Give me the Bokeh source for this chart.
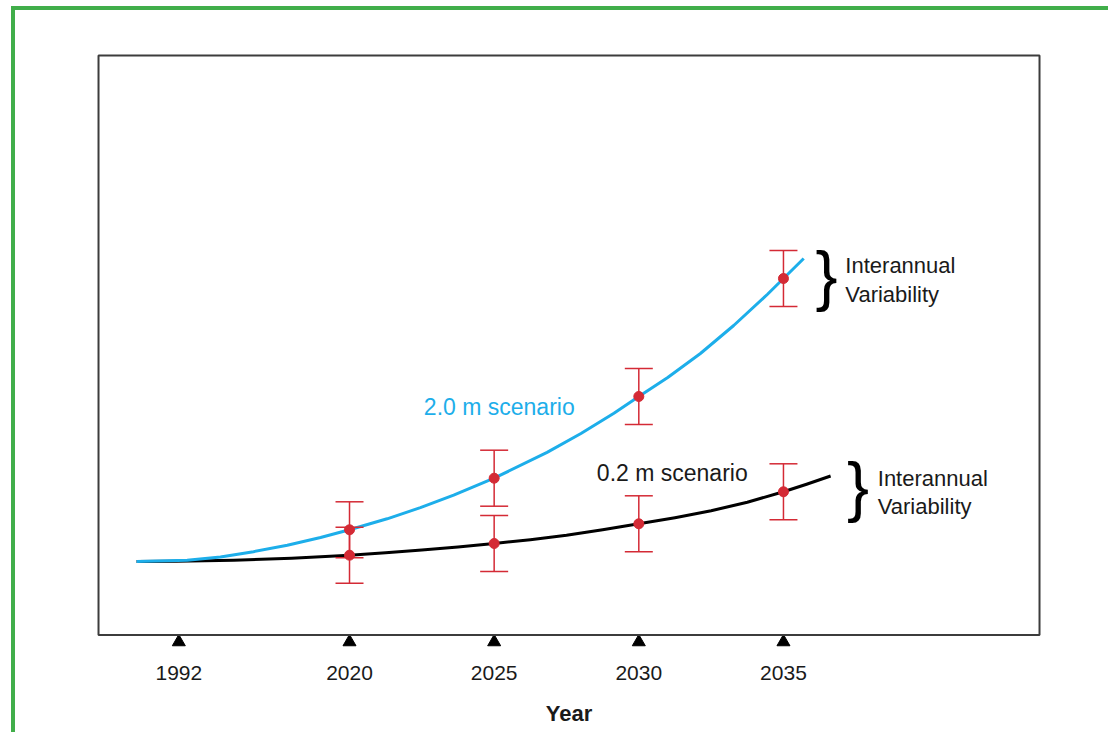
from bokeh.plotting import figure
from bokeh.models import FixedTicker, BoxAnnotation
from bokeh.layouts import column
from bokeh.embed import file_html
from bokeh.resources import INLINE
from bokeh.core.properties import value

# ---------------- data ----------------
tick_labels = ["1992", "2020", "2025", "2030", "2035"]
# axis position of each tick (2020-2035 linear; 1992 sits at an axis break)
tick_pos = [2014.1, 2020, 2025, 2030, 2035]

obs_years = [2020, 2025, 2030, 2035]
high_vals = [3.17, 8.33, 16.5, 28.3]     # 2.0 m scenario (relative units)
low_vals = [0.63, 1.8, 3.77, 6.97]       # 0.2 m scenario
variability = [2.8, 2.8, 2.8, 2.8]       # interannual variability (+/-)

high_curve_x = [2012.64, 2014.39, 2015.54, 2016.68, 2017.85, 2019.0, 2020.0,
                2021.3, 2022.45, 2023.6, 2025.0, 2026.83, 2028.0, 2029.14,
                2030.0, 2031.0, 2032.13, 2033.28, 2034.44, 2035.0, 2035.7]
high_curve_y = [0.0, 0.13, 0.45, 0.98, 1.62, 2.4, 3.17,
                4.27, 5.38, 6.63, 8.33, 10.91, 12.8, 14.83,
                16.5, 18.4, 20.8, 23.6, 26.7, 28.3, 30.3]

low_curve_x = [2012.64, 2014.0, 2016.0, 2018.0, 2020.0, 2021.25, 2022.5,
               2023.75, 2025.0, 2026.25, 2027.5, 2028.75, 2030.0, 2031.25,
               2032.5, 2033.75, 2035.0, 2035.8, 2036.63]
low_curve_y = [0.0, 0.02, 0.13, 0.33, 0.63, 0.88, 1.15,
               1.46, 1.8, 2.18, 2.62, 3.17, 3.77, 4.38,
               5.07, 5.93, 6.97, 7.72, 8.55]

# ---------------- styling ----------------
BLUE = "#1daeea"
RED = "#d42a35"
GREEN = "#41ae4a"
TXT = "#1a1a1a"
FONT = "Liberation Sans"

p = figure(width=1093, height=722,
           x_range=(2011.047, 2044.127), y_range=(-8.9, 51.4),
           output_backend="svg", toolbar_location=None,
           y_axis_location=None,
           min_border_left=75, min_border_right=61,
           min_border_top=37, min_border_bottom=82)
p.outline_line_color = None
p.xgrid.visible = False
p.ygrid.visible = False
p.background_fill_color = "white"
p.border_fill_color = "white"

ax = p.xaxis[0]
ax.ticker = FixedTicker(ticks=tick_pos)
ax.major_label_overrides = {pos: lab for pos, lab in zip(tick_pos, tick_labels)}
ax.axis_line_color = None
ax.major_tick_line_color = None
ax.minor_tick_line_color = None
ax.major_label_text_font = FONT
ax.major_label_text_font_size = "21px"
ax.major_label_text_color = TXT
ax.major_label_standoff = 9
ax.axis_label = "Year"
ax.axis_label_text_font = FONT
ax.axis_label_text_font_style = "bold"
ax.axis_label_text_font_size = "22px"
ax.axis_label_text_color = TXT
ax.axis_label_standoff = 18

# plot box
p.add_layout(BoxAnnotation(left=2011.324, right=2043.851, top=50.6, bottom=-7.35,
                           fill_color=None, fill_alpha=0,
                           line_color="#3c3c3c", line_alpha=1.0, line_width=2))

# tick triangles
p.scatter(tick_pos, [-8.05] * len(tick_pos), marker="triangle", size=13,
          color="black")

# curves
p.line(low_curve_x, low_curve_y, line_color="black", line_width=3,
       line_join="round")
p.line(high_curve_x, high_curve_y, line_color=BLUE, line_width=3,
       line_join="round")

# error bars + points
for vals in (high_vals, low_vals):
    lo = [v - e for v, e in zip(vals, variability)]
    hi = [v + e for v, e in zip(vals, variability)]
    p.segment(obs_years, lo, obs_years, hi, line_color=RED, line_width=1.5)
    p.scatter(obs_years + obs_years, lo + hi, marker="dash", size=28,
              line_color=RED, line_width=1.5)
    p.scatter(obs_years, vals, marker="circle", size=10, color=RED)

# scenario labels
p.text(x=[2022.57], y=[15.43], text=["2.0 m scenario"], text_color=BLUE,
       text_font=value(FONT), text_font_size="23px",
       text_align="left", text_baseline="middle")
p.text(x=[2028.55], y=[8.87], text=["0.2 m scenario"], text_color=TXT,
       text_font=value(FONT), text_font_size="23px",
       text_align="left", text_baseline="middle")

# braces
p.text(x=[2036.49, 2037.58], y=[28.7, 7.6], text=["}", "}"], text_color="black",
       text_font=value(FONT), text_font_size="66px",
       text_align="center", text_baseline="alphabetic")

# variability labels
p.text(x=[2037.14, 2037.14, 2038.26, 2038.26],
       y=[29.57, 26.73, 8.33, 5.53],
       text=["Interannual", "Variability", "Interannual", "Variability"],
       text_color=TXT, text_font=value(FONT), text_font_size="22px",
       text_align="left", text_baseline="middle")

layout = column(p, styles={"border-top": f"4px solid {GREEN}",
                           "border-left": f"4px solid {GREEN}",
                           "margin-left": "11px", "margin-top": "6px"})

open("out.html", "w").write(file_html(layout, INLINE))
